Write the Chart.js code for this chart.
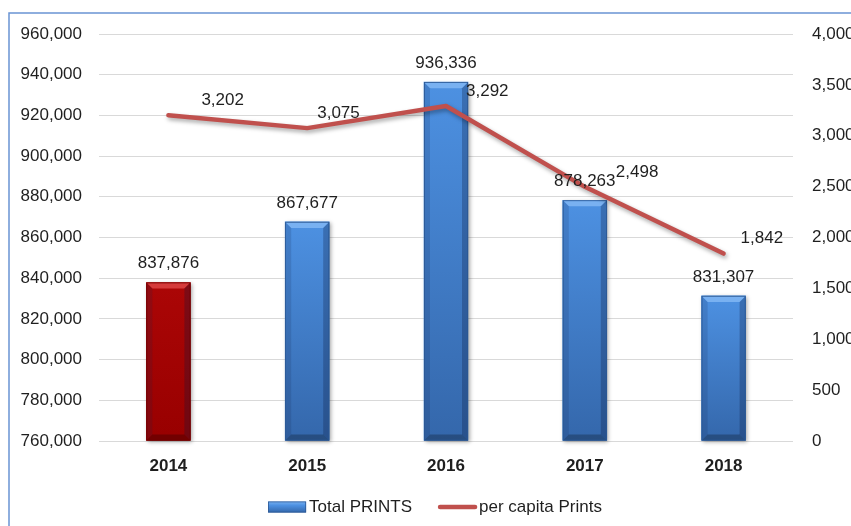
<!DOCTYPE html>
<html>
<head>
<meta charset="utf-8">
<title>Total PRINTS</title>
<script src="https://cdn.jsdelivr.net/npm/chart.js@4.4.1/dist/chart.umd.min.js"></script>
<style>
  html, body { margin: 0; padding: 0; background: #fff; overflow: hidden; }
  #wrap { position: relative; width: 851px; height: 526px; }
</style>
</head>
<body>
<div id="wrap"><canvas id="printsChart" width="851" height="526"></canvas></div>
<script>
// chart data
const years = ['2014', '2015', '2016', '2017', '2018'];
const totalPrints = [837876, 867677, 936336, 878263, 831307];
const perCapitaPrints = [3202, 3075, 3292, 2498, 1842];
const seriesNames = ['Total PRINTS', 'per capita Prints'];

// axis ranges
const printsMin = 760000, printsMax = 960000, printsStep = 20000;
const perCapitaMin = 0, perCapitaMax = 4000, perCapitaStep = 500;

// small sideways nudges for the per capita labels
const lineLabelShift = [33, 10, 20, 31, 17];

const FONT = '"Liberation Sans", Arial, sans-serif';
const TEXT = '#1f1f1f';
const LINE_RED = '#c0504d';

Chart.defaults.font.family = FONT;
Chart.defaults.font.size = 17;
Chart.defaults.color = TEXT;

const fmt = v => Number(v).toLocaleString('en-US');

// colours for the bevelled bars (first year in red, the rest blue)
function barTheme(i) {
    if (i === 0) {
        return { top: '#ab0606', bottom: '#980000', bevel: '#d53a3a', edge: '#6e0000' };
    }
    return { top: '#4d91e2', bottom: '#3467ab', bevel: '#79b1f1', edge: '#2b5793' };
}

// white page with the blue frame on the left and top
const framePlugin = {
    id: 'frame',
    beforeDraw(chart) {
        const ctx = chart.ctx;
        ctx.save();
        ctx.fillStyle = '#fff';
        ctx.fillRect(0, 0, chart.width, chart.height);
        ctx.strokeStyle = '#6a94d4';
        ctx.lineWidth = 1.5;
        ctx.beginPath();
        ctx.moveTo(9, chart.height);
        ctx.lineTo(9, 13);
        ctx.lineTo(chart.width, 13);
        ctx.stroke();
        ctx.restore();
    }
};

// repaint bars with gradient and bevelled edges
const bevelPlugin = {
    id: 'bevel',
    afterDatasetDraw(chart, args) {
        if (args.index !== 0) return;
        const ctx = chart.ctx;
        args.meta.data.forEach((bar, i) => {
            const p = bar.getProps(['x', 'y', 'base', 'width'], true);
            const l = p.x - p.width / 2, r = p.x + p.width / 2;
            const t = p.y, b = Math.min(p.base, chart.chartArea.bottom);
            const bv = 6;
            const th = barTheme(i);

            ctx.save();
            ctx.shadowColor = 'rgba(0,0,0,0.35)';
            ctx.shadowBlur = 4;
            ctx.shadowOffsetX = 1.5;
            ctx.shadowOffsetY = 1.5;
            const g = ctx.createLinearGradient(0, t, 0, b);
            g.addColorStop(0, th.top);
            g.addColorStop(1, th.bottom);
            ctx.fillStyle = g;
            ctx.fillRect(l, t, p.width, b - t);
            ctx.restore();

            ctx.save();
            // top bevel
            ctx.fillStyle = th.bevel;
            ctx.beginPath();
            ctx.moveTo(l, t); ctx.lineTo(r, t); ctx.lineTo(r - bv, t + bv); ctx.lineTo(l + bv, t + bv);
            ctx.closePath(); ctx.fill();
            // left side
            ctx.fillStyle = 'rgba(20,40,80,0.16)';
            ctx.beginPath();
            ctx.moveTo(l, t); ctx.lineTo(l + bv, t + bv); ctx.lineTo(l + bv, b - bv); ctx.lineTo(l, b);
            ctx.closePath(); ctx.fill();
            // right side
            ctx.fillStyle = 'rgba(10,25,60,0.28)';
            ctx.beginPath();
            ctx.moveTo(r, t); ctx.lineTo(r - bv, t + bv); ctx.lineTo(r - bv, b - bv); ctx.lineTo(r, b);
            ctx.closePath(); ctx.fill();
            // bottom
            ctx.fillStyle = 'rgba(0,0,0,0.25)';
            ctx.beginPath();
            ctx.moveTo(l, b); ctx.lineTo(l + bv, b - bv); ctx.lineTo(r - bv, b - bv); ctx.lineTo(r, b);
            ctx.closePath(); ctx.fill();
            // outline
            ctx.strokeStyle = th.edge;
            ctx.lineWidth = 0.8;
            ctx.strokeRect(l + 0.4, t + 0.4, p.width - 0.8, b - t - 0.8);
            ctx.restore();
        });
    }
};

// drop shadow under the per capita line
const lineShadowPlugin = {
    id: 'lineShadow',
    beforeDatasetDraw(chart, args) {
        if (args.index !== 1) return;
        const ctx = chart.ctx;
        ctx.save();
        ctx.shadowColor = 'rgba(0,0,0,0.35)';
        ctx.shadowBlur = 4;
        ctx.shadowOffsetX = 1.5;
        ctx.shadowOffsetY = 2.5;
    },
    afterDatasetDraw(chart, args) {
        if (args.index !== 1) return;
        chart.ctx.restore();
    }
};

// value labels above bars and beside line points
const valueLabelPlugin = {
    id: 'valueLabels',
    afterDatasetsDraw(chart) {
        const ctx = chart.ctx;
        ctx.save();
        ctx.font = '17px ' + FONT;
        ctx.fillStyle = TEXT;
        ctx.textBaseline = 'middle';

        ctx.textAlign = 'center';
        chart.getDatasetMeta(0).data.forEach((bar, i) => {
            ctx.fillText(fmt(totalPrints[i]), bar.x, bar.y - 19);
        });

        ctx.textAlign = 'left';
        chart.getDatasetMeta(1).data.forEach((pt, i) => {
            ctx.fillText(fmt(perCapitaPrints[i]), pt.x + lineLabelShift[i], pt.y - 15);
        });
        ctx.restore();
    }
};

// legend row along the bottom
const legendPlugin = {
    id: 'bottomLegend',
    afterDraw(chart) {
        const ctx = chart.ctx;
        const area = chart.chartArea;
        ctx.save();
        ctx.font = '17px ' + FONT;
        ctx.fillStyle = TEXT;
        ctx.textBaseline = 'middle';
        ctx.textAlign = 'left';
        const w1 = ctx.measureText(seriesNames[0]).width;
        const w2 = ctx.measureText(seriesNames[1]).width;
        const total = 38 + 3 + w1 + 26 + 39 + 2 + w2;
        let x = (area.left + area.right) / 2 - total / 2 - 11;
        const y = chart.height - 19;

        // bar swatch
        const g = ctx.createLinearGradient(0, y - 5.5, 0, y + 5.5);
        g.addColorStop(0, '#79b1f1');
        g.addColorStop(0.35, '#4d91e2');
        g.addColorStop(1, '#3467ab');
        ctx.fillStyle = g;
        ctx.fillRect(x, y - 5.5, 38, 11);
        ctx.strokeStyle = '#2b5793';
        ctx.lineWidth = 0.8;
        ctx.strokeRect(x + 0.4, y - 5.1, 37.2, 10.2);
        x += 38 + 3;
        ctx.fillStyle = TEXT;
        ctx.fillText(seriesNames[0], x, y);
        x += w1 + 26;

        // line swatch
        ctx.strokeStyle = LINE_RED;
        ctx.lineWidth = 4.5;
        ctx.lineCap = 'round';
        ctx.beginPath();
        ctx.moveTo(x + 2, y);
        ctx.lineTo(x + 37, y);
        ctx.stroke();
        x += 39 + 2;
        ctx.fillText(seriesNames[1], x, y);
        ctx.restore();
    }
};

const ctx = document.getElementById('printsChart').getContext('2d');
const chart = new Chart(ctx, {
    data: {
        labels: years,
        datasets: [{
            type: 'bar',
            label: seriesNames[0],
            data: totalPrints,
            yAxisID: 'y',
            base: printsMin,
            clip: 0,
            backgroundColor: years.map((_, i) => barTheme(i).top),
            barThickness: 44,
            order: 1
        }, {
            type: 'line',
            label: seriesNames[1],
            data: perCapitaPrints,
            yAxisID: 'y1',
            borderColor: LINE_RED,
            borderWidth: 4.5,
            borderCapStyle: 'round',
            borderJoinStyle: 'round',
            pointRadius: 0,
            tension: 0,
            fill: false,
            order: 0
        }]
    },
    options: {
        responsive: false,
        animation: false,
        layout: {
            padding: { top: 34, bottom: 40, left: 0, right: 0 }
        },
        plugins: {
            legend: { display: false },
            tooltip: { enabled: false }
        },
        scales: {
            x: {
                grid: { display: false, drawTicks: false },
                border: { display: false },
                ticks: {
                    padding: 15,
                    font: { size: 17, weight: 'bold' },
                    color: TEXT
                },
                afterFit(scale) { scale.height = 45; }
            },
            y: {
                position: 'left',
                min: printsMin,
                max: printsMax,
                grid: { color: '#d9d9d9', lineWidth: 1, drawTicks: false },
                border: { display: false },
                ticks: {
                    stepSize: printsStep,
                    padding: 17,
                    color: TEXT,
                    callback: v => fmt(v)
                },
                afterFit(scale) { scale.width = 99; }
            },
            y1: {
                position: 'right',
                min: perCapitaMin,
                max: perCapitaMax,
                grid: { display: false, drawTicks: false },
                border: { display: false },
                ticks: {
                    stepSize: perCapitaStep,
                    padding: 19,
                    color: TEXT,
                    callback: v => fmt(v)
                },
                afterFit(scale) { scale.width = 58; }
            }
        }
    },
    plugins: [framePlugin, lineShadowPlugin, bevelPlugin, valueLabelPlugin, legendPlugin]
});
</script>
</body>
</html>
